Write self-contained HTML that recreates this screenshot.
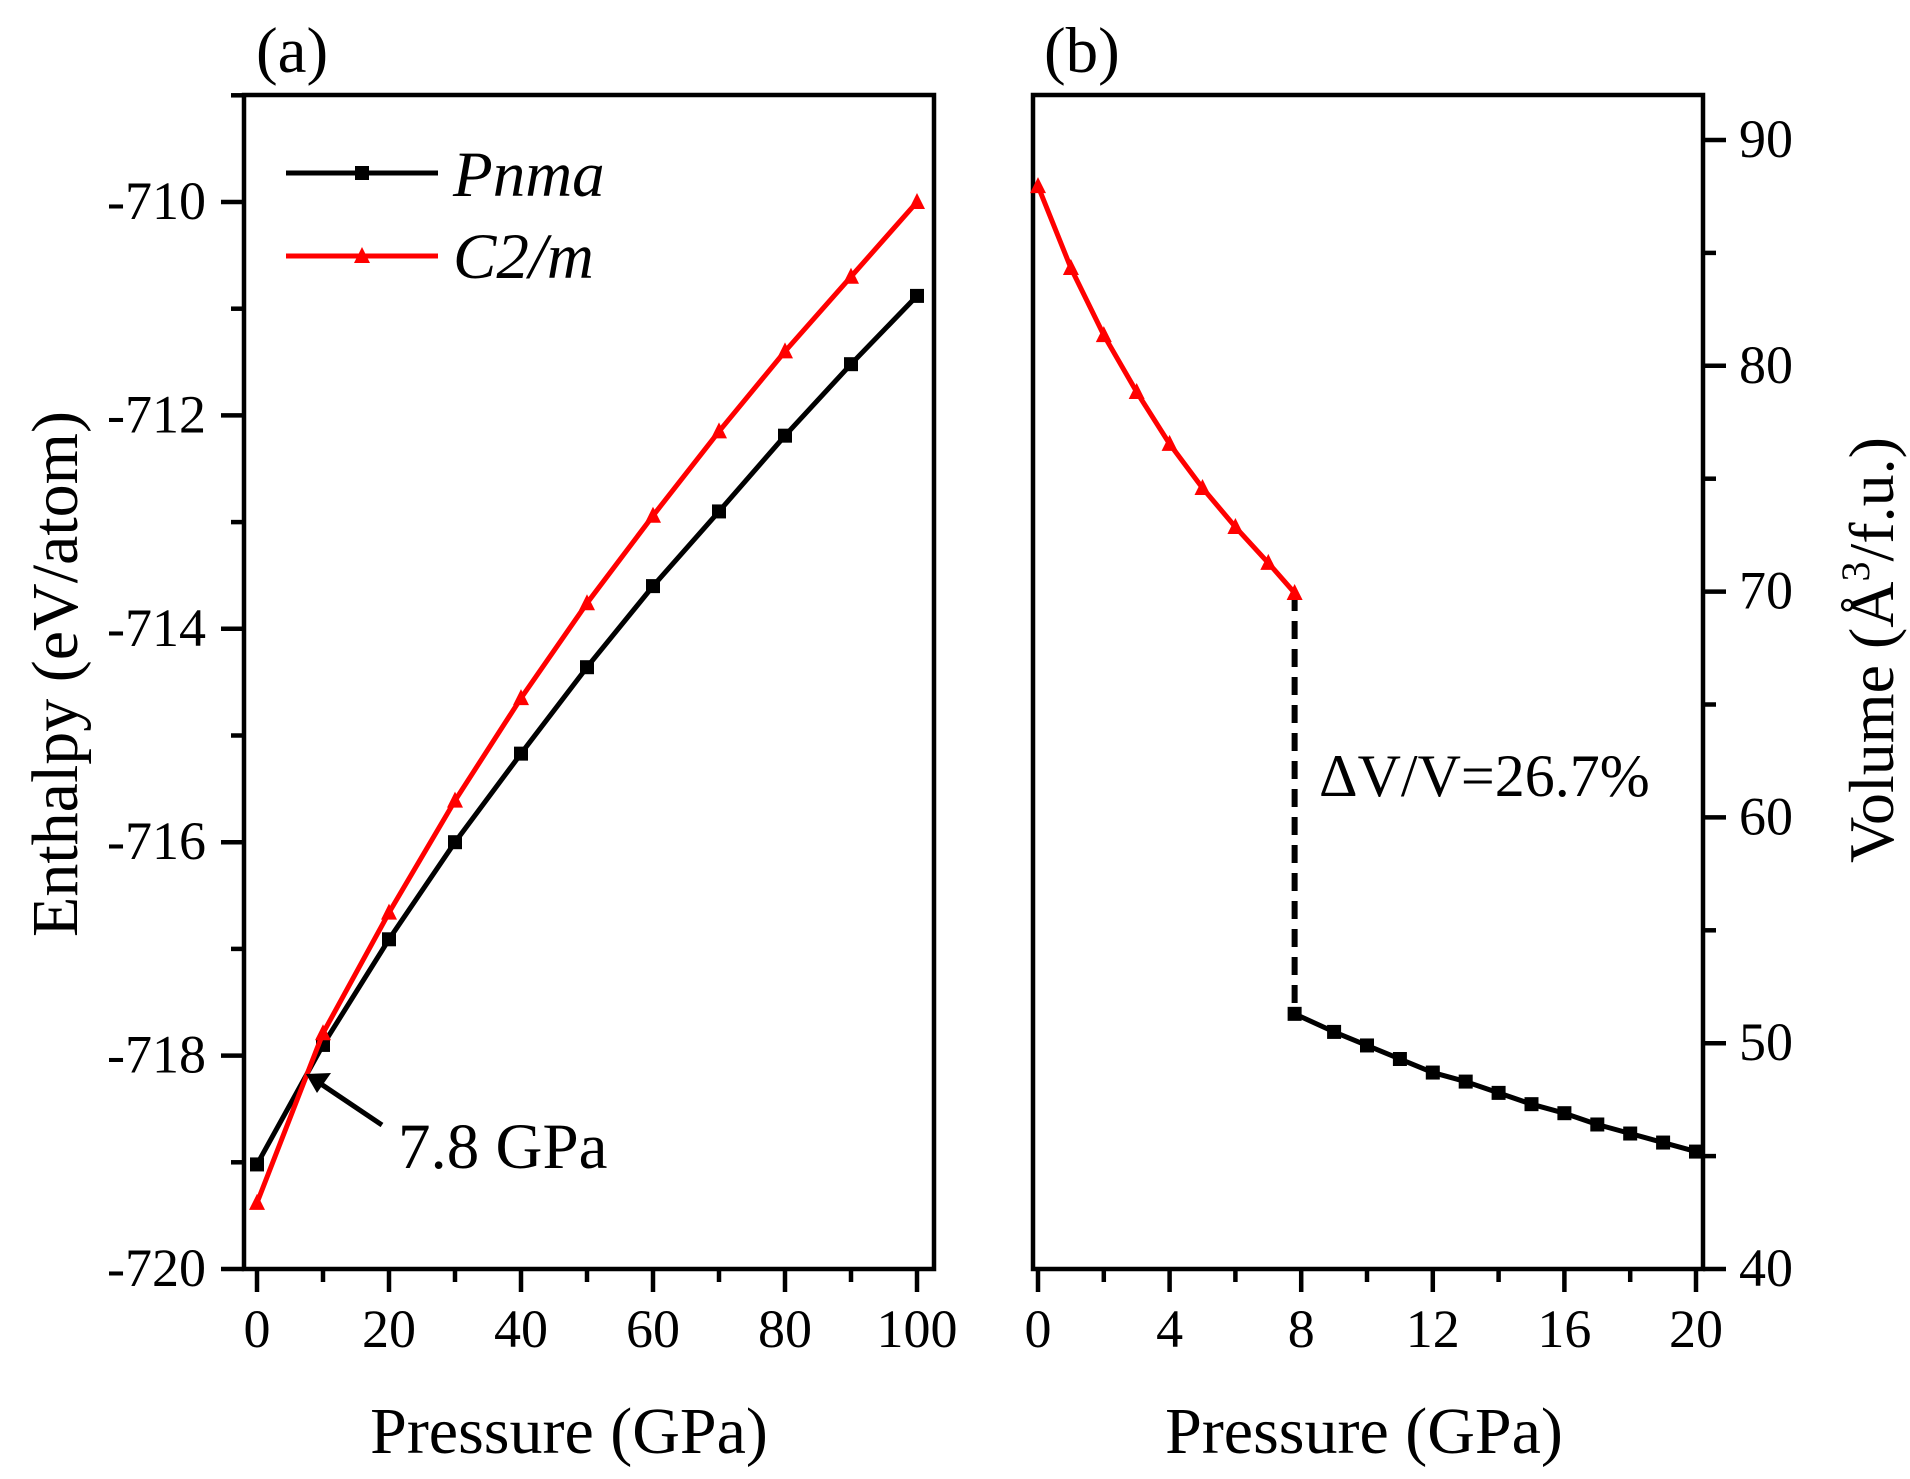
<!DOCTYPE html>
<html><head><meta charset="utf-8"><style>
html,body{margin:0;padding:0;background:#fff;}
svg{display:block;font-family:"Liberation Serif",serif;}
</style></head><body>
<svg id="fig" width="1910" height="1479" viewBox="0 0 1910 1479" xmlns="http://www.w3.org/2000/svg">
<rect width="1910" height="1479" fill="#fff"/>
<g id="pa"></g>
<g id="pb"></g>
</svg>
<script>
// Panel (a) data
const aPressure = [0,10,20,30,40,50,60,70,80,90,100];
const aPnma = [-719.02,-717.9,-716.91,-716.0,-715.17,-714.36,-713.6,-712.9,-712.19,-711.52,-710.88];
const aC2m = [-719.38,-717.79,-716.66,-715.61,-714.65,-713.76,-712.94,-712.15,-711.40,-710.70,-710.0];
const aXTicks = [0,20,40,60,80,100];
const aYTicks = [-720,-718,-716,-714,-712,-710];
// Panel (b) data
const bRedP = [0,1,2,3,4,5,6,7,7.8];
const bRedV = [87.96,84.33,81.36,78.84,76.54,74.59,72.86,71.27,69.94];
const bBlackP = [7.8,9,10,11,12,13,14,15,16,17,18,19,20];
const bBlackV = [51.3,50.5,49.9,49.3,48.7,48.3,47.8,47.3,46.9,46.4,46.0,45.6,45.2];
const bXTicks = [0,4,8,12,16,20];
const bYTicks = [40,50,60,70,80,90];

const NS="http://www.w3.org/2000/svg";
function mk(parent,tag,attrs,text){const e=document.createElementNS(NS,tag);for(const k in attrs)e.setAttribute(k,attrs[k]);if(text!==undefined)e.textContent=text;parent.appendChild(e);return e;}

const ax=p=>257+(p-0)*(917-257)/100;
const ay=v=>1269+(v+720)*(202-1269)/10;
const bx=p=>1038+p*(1696-1038)/20;
const by=v=>1269+(v-40)*(140-1269)/50;

const pa=document.getElementById('pa'), pb=document.getElementById('pb');
const TOP=95,BOT=1269;

// ---- Panel a ----
let fr=mk(pa,'rect',{x:244,y:TOP,width:934-244,height:BOT-TOP,fill:'none',stroke:'#000','stroke-width':4.5});


for(let v=-720;v<=-709;v+=1){
  const maj=(v%2===0);
  const t=mk(pa,'line',{x1:244,x2:maj?221:231,y1:ay(v),y2:ay(v),stroke:'#000','stroke-width':4.5});
  
  
}
aYTicks.forEach(v=>{
  const t=mk(pa,'text',{x:206,y:ay(v)+17,'font-size':54,'text-anchor':'end'},String(v));
  
  
});
for(let p=0;p<=100;p+=10){
  const maj=(p%20===0);
  const t=mk(pa,'line',{x1:ax(p),x2:ax(p),y1:BOT,y2:maj?1292:1282,stroke:'#000','stroke-width':4.5});
  
  
}
aXTicks.forEach(p=>{
  const t=mk(pa,'text',{x:ax(p),y:1347,'font-size':54,'text-anchor':'middle'},String(p));
  
  
});
function series(g,xs,ys,fx,fy,color,marker,name){
  const pts=xs.map((x,i)=>fx(x)+','+fy(ys[i])).join(' ');
  const l=mk(g,'polyline',{points:pts,fill:'none',stroke:color,'stroke-width':5,'stroke-linejoin':'round'});
  
  
  xs.forEach((x,i)=>{
    const cx=fx(x),cy=fy(ys[i]);let m;
    if(marker==='sq') m=mk(g,'rect',{x:cx-7,y:cy-7,width:14,height:14,fill:color});
    else m=mk(g,'polygon',{points:`${cx},${cy-9} ${cx-8},${cy+7} ${cx+8},${cy+7}`,fill:color});
    
    
  });
}
series(pa,aPressure,aPnma,ax,ay,'#000','sq','pnma');
series(pa,aPressure,aC2m,ax,ay,'#f00','tri','c2m');

// legend
let lg=mk(pa,'g',{});


mk(lg,'line',{x1:286,x2:438,y1:173,y2:173,stroke:'#000','stroke-width':5});
mk(lg,'rect',{x:355,y:166,width:14,height:14,fill:'#000'});
mk(lg,'text',{x:453,y:196,'font-size':65,'font-style':'italic'},'Pnma');
mk(lg,'line',{x1:286,x2:438,y1:256,y2:256,stroke:'#f00','stroke-width':5});
mk(lg,'polygon',{points:'362,247 354,263 370,263',fill:'#f00'});
mk(lg,'text',{x:453,y:278,'font-size':65,'font-style':'italic'},'C2/m');

// annotation
mk(pa,'line',{x1:382,y1:1125,x2:318,y2:1082,stroke:'#000','stroke-width':5});
let ah=mk(pa,'polygon',{points:'306,1074 331,1073 317,1093',fill:'#000'});


let an=mk(pa,'text',{x:398,y:1168,'font-size':65},'7.8 GPa');



let ta=mk(pa,'text',{x:256,y:72,'font-size':65},'(a)');


let xa=mk(pa,'text',{x:569,y:1453,'font-size':66,'text-anchor':'middle'},'Pressure (GPa)');


let ya=mk(pa,'text',{x:0,y:0,'font-size':66,'text-anchor':'middle',transform:'translate(77,674) rotate(-90)'},'Enthalpy (eV/atom)');



// ---- Panel b ----
let fb=mk(pb,'rect',{x:1033,y:TOP,width:1703-1033,height:BOT-TOP,fill:'none',stroke:'#000','stroke-width':4.5});


for(let v=40;v<=90;v+=5){
  const maj=(v%10===0);
  const t=mk(pb,'line',{x1:1703,x2:maj?1726:1716,y1:by(v),y2:by(v),stroke:'#000','stroke-width':4.5});
  
  
}
bYTicks.forEach(v=>{
  const t=mk(pb,'text',{x:1739,y:by(v)+17,'font-size':54},String(v));
  
  
});
for(let p=0;p<=20;p+=2){
  const maj=(p%4===0);
  const t=mk(pb,'line',{x1:bx(p),x2:bx(p),y1:BOT,y2:maj?1292:1282,stroke:'#000','stroke-width':4.5});
  
  
}
bXTicks.forEach(p=>{
  const t=mk(pb,'text',{x:bx(p),y:1347,'font-size':54,'text-anchor':'middle'},String(p));
  
  
});
let dl=mk(pb,'line',{x1:bx(7.8),x2:bx(7.8),y1:by(bRedV[bRedV.length-1]),y2:by(bBlackV[0]),stroke:'#000','stroke-width':6,'stroke-dasharray':'18,10'});


series(pb,bRedP,bRedV,bx,by,'#f00','tri','c2m-volume');
series(pb,bBlackP,bBlackV,bx,by,'#000','sq','pnma-volume');
let dv=mk(pb,'text',{x:1319,y:796,'font-size':60},'ΔV/V=26.7%');


let tb=mk(pb,'text',{x:1044,y:72,'font-size':65},'(b)');


let xb=mk(pb,'text',{x:1364,y:1453,'font-size':66,'text-anchor':'middle'},'Pressure (GPa)');


let yb=mk(pb,'text',{x:0,y:0,'font-size':64,'text-anchor':'middle',transform:'translate(1893,650) rotate(-90)'});


mk(yb,'tspan',{},'Volume (Å');
mk(yb,'tspan',{dy:-24,'font-size':40},'3');
mk(yb,'tspan',{dy:24},'/f.u.)');
</script>
</body></html>
